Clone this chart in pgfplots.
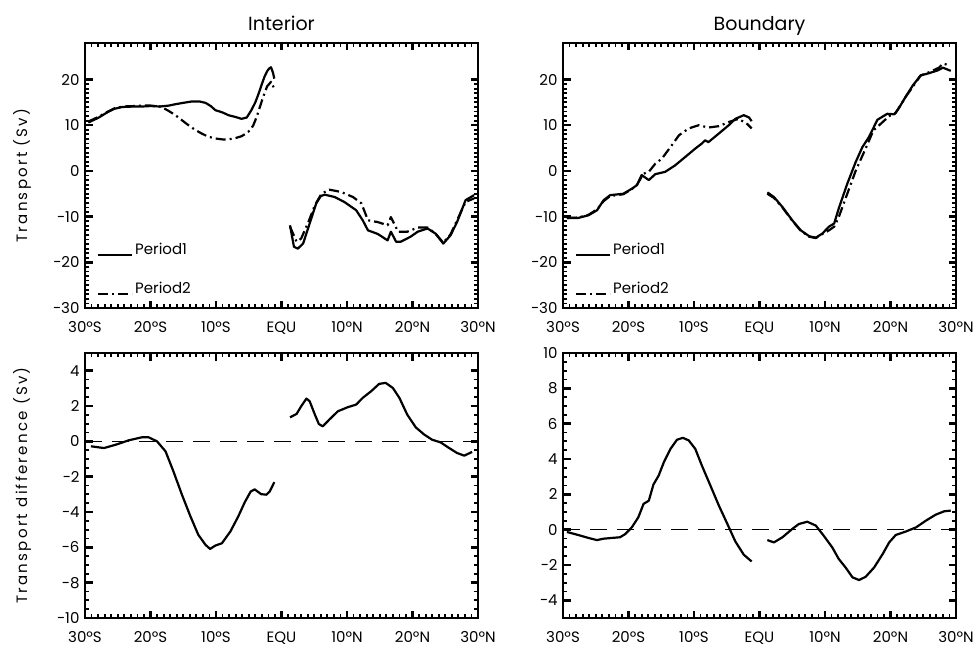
\documentclass[border=0pt]{standalone}
\usepackage{fontspec}
\setmainfont{Poppins}
\newfontfamily\lblfont{Poppins}[LetterSpace=15]
\usepackage{pgfplots}
\pgfplotsset{compat=1.18}
\newcommand{\tfont}{\fontsize{15}{16}\selectfont}
\pgfplotsset{
  panel/.style={
    width=393pt, height=265pt, scale only axis,
    xmin=-30, xmax=30,
    xtick={-30,-20,...,30},
    xticklabels={30ºS,20ºS,10ºS,EQU,10ºN,20ºN,30ºN},
    minor x tick num=9,
    axis line style={line width=1.5pt},
    xtick pos=both, ytick pos=both, tick align=inside,
    tick style={line width=1.2pt, black},
    every major tick/.append style={draw=black, line width=2.4pt},
    every minor tick/.append style={draw=black, line width=1.8pt},
    major tick length=7.5pt, minor tick length=4pt,
    tick label style={font=\tfont},
    xticklabel style={yshift=-10pt},
    yticklabel style={xshift=-2pt},
    label style={font=\lblfont\tfont},
    title style={font=\fontsize{19}{19}\selectfont, at={(0.5,1)}, anchor=base, yshift=6pt},
    ylabel style={at={(axis description cs:-0.16,0.5)}, anchor=center},
    cycle list={{black, no markers}},
    every axis plot/.append style={line width=2.2pt, black, line join=round},
    legend style={draw=none, fill=none, at={(axis description cs:0.03,0.04)}, anchor=south west, font=\tfont, row sep=22pt, inner sep=0pt},
    legend cell align=left,
    legend image code/.code={\draw[#1] (0pt,-5pt) -- (34pt,-5pt);},
  },
  p1/.style={black, no markers, line width=2.2pt},
  p2/.style={black, no markers, line width=2.2pt, dash pattern=on 10pt off 4pt on 2pt off 4pt},
  zl/.style={black, no markers, line width=1.1pt, dash pattern=on 17pt off 10pt},
}
\begin{document}
\begin{tikzpicture}
\path (0,0) rectangle (977pt,-647pt);
% ---------------- Top left
\begin{axis}[panel, at={(85pt,-43pt)}, anchor=north west,
  ymin=-30, ymax=28, ytick={-30,-20,...,20},
  yticklabels={−30,−20,−10,0,10,20}, minor y tick num=9,
  title={Interior}, ylabel={Transport (Sv)}]
\addplot[p1] coordinates {(-29.5,10.6) (-28,11.6) (-26.5,12.9) (-25.5,13.6) (-24.3,14.0) (-22.5,14.1) (-21.3,14.1) (-20,14.2) (-18.5,14.1) (-17.2,14.3) (-16.2,14.6) (-15,14.9) (-13.7,15.2) (-12.5,15.2) (-11.6,14.9) (-10.8,14.2) (-10.1,13.3) (-9,12.8) (-8.1,12.2) (-7,11.8) (-6.1,11.4) (-5.3,11.7) (-4.6,13.3) (-4,15.0) (-3.5,16.9) (-3,19.0) (-2.6,20.6) (-2.2,21.8) (-1.9,22.4) (-1.6,22.7) (-1.3,21.5) (-1.1,20.2)};
\addlegendentry{Period1}
\addplot[p2] coordinates {(-29.5,10.8) (-28,11.8) (-26.5,13.0) (-25.5,13.7) (-24.3,14.1) (-22.5,14.2) (-21.3,14.3) (-20,14.3) (-18.5,14.1) (-17.3,13.2) (-16.2,12.2) (-15.2,11.1) (-14.2,10.0) (-13.2,9.0) (-12.2,8.2) (-11.2,7.5) (-10.1,7.1) (-9,6.9) (-8.1,6.9) (-7,7.2) (-6.1,7.6) (-5.4,8.2) (-4.8,8.9) (-4.3,10.0) (-3.8,11.8) (-3.3,14.0) (-2.8,16.2) (-2.2,18.5) (-1.6,19.5) (-1.1,18.0)};
\addlegendentry{Period2}
\addplot[p1] coordinates {(1.3,-11.9) (1.9,-16.6) (2.5,-17.0) (3.3,-15.9) (4.3,-11.5) (5.3,-7.1) (6.0,-5.5) (6.6,-5.2) (8.1,-5.7) (9.6,-6.8) (11.4,-8.6) (12.4,-10.8) (13.2,-13.0) (14.7,-13.8) (16.2,-15.2) (16.7,-13.3) (17.5,-15.5) (18.2,-15.5) (19.7,-14.4) (20.8,-13.3) (22.3,-12.6) (23.5,-13.7) (24.7,-15.9) (25.8,-14.1) (26.8,-11.2) (28.1,-6.4) (29.4,-5.3)};
\addplot[p2] coordinates {(1.3,-12.2) (2.3,-15.5) (3.0,-14.8) (4.1,-11.2) (5.1,-7.5) (6.1,-5.0) (7.3,-4.1) (9.1,-4.6) (10.9,-5.7) (12.2,-7.1) (13.2,-10.8) (14.7,-11.2) (16.2,-11.9) (16.7,-10.1) (17.8,-13.3) (19.2,-13.3) (20.8,-12.4) (22.3,-12.4) (23.5,-13.7) (24.7,-15.7) (25.8,-13.9) (26.8,-10.8) (28.1,-6.8) (29.4,-6.0)};
\end{axis}
% ---------------- Top right
\begin{axis}[panel, at={(563pt,-43pt)}, anchor=north west,
  ymin=-30, ymax=28, ytick={-30,-20,...,20},
  yticklabels={−30,−20,−10,0,10,20}, minor y tick num=9,
  title={Boundary}]
\addplot[p1] coordinates {(-29.4,-10.3) (-27.7,-10.3) (-26.1,-9.7) (-24.8,-8.6) (-23.8,-6.4) (-22.8,-5.3) (-20.8,-5.0) (-19.5,-3.9) (-18.7,-3.1) (-18.0,-0.9) (-16.9,-2.0) (-15.9,-0.7) (-14.4,-0.2) (-12.9,1.2) (-11.3,3.1) (-9.8,4.9) (-8.8,6.0) (-8.3,6.7) (-7.8,6.3) (-6.2,8.2) (-4.7,10.0) (-3.7,11.4) (-2.4,12.2) (-1.6,11.7) (-1.2,10.9)};
\addlegendentry{Period1}
\addplot[p2] coordinates {(-29.4,-10.3) (-27.7,-10.2) (-26.1,-9.6) (-24.8,-8.4) (-23.8,-6.6) (-22.8,-5.5) (-20.8,-5.1) (-19.5,-4.0) (-18.7,-3.0) (-17.7,-0.6) (-16.9,-0.2) (-15.9,1.6) (-14.9,2.7) (-13.4,5.6) (-12.3,7.8) (-10.8,9.3) (-9.3,10.0) (-7.8,9.5) (-6.2,9.8) (-4.7,10.7) (-3.2,11.4) (-1.9,10.3) (-1.2,9.3)};
\addlegendentry{Period2}
\addplot[p1] coordinates {(1.2,-4.7) (2.2,-5.7) (3.5,-7.9) (5.0,-10.8) (6.3,-13.0) (7.6,-14.3) (8.6,-14.6) (9.6,-13.7) (10.6,-12.2) (11.4,-11.5) (12.1,-8.2) (13.4,-2.8) (14.7,2.0) (15.7,5.2) (16.7,7.4) (18.0,11.2) (19.5,12.5) (20.6,12.4) (21.3,13.8) (22.3,16.2) (23.4,18.7) (24.6,20.9) (25.9,21.4) (27.2,22.0) (28.0,22.6) (29.2,21.9)};
\addplot[p2] coordinates {(1.2,-5.0) (2.2,-5.9) (3.5,-8.0) (5.0,-10.9) (6.3,-13.1) (7.6,-14.4) (8.6,-14.7) (9.6,-13.8) (10.6,-13.0) (11.4,-12.2) (12.1,-10.1) (13.4,-5.0) (14.7,0.1) (16.2,4.9) (17.4,8.9) (18.5,10.3) (19.8,12.0) (20.8,12.7) (22.3,16.2) (23.4,18.4) (24.6,20.9) (25.9,21.6) (27.4,22.6) (28.0,23.5) (29.0,23.1)};
\end{axis}
% ---------------- Bottom left
\begin{axis}[panel, at={(85pt,-353pt)}, anchor=north west,
  ymin=-10, ymax=5, ytick={-10,-8,...,4},
  yticklabels={−10,−8,−6,−4,−2,0,2,4}, minor y tick num=3,
  ylabel={Transport difference (Sv)}]
\addplot[zl] coordinates {(-30,0) (30,0)};
\addplot[p1] coordinates {(-29.1,-0.28) (-27.1,-0.38) (-25.3,-0.19) (-23.3,0.06) (-21.3,0.23) (-20.3,0.23) (-19.0,0.0) (-17.7,-0.57) (-16.5,-1.70) (-15.2,-3.02) (-13.9,-4.25) (-12.7,-5.29) (-11.6,-5.86) (-10.9,-6.09) (-10.1,-5.90) (-9.1,-5.77) (-7.8,-5.10) (-6.6,-4.25) (-5.6,-3.44) (-4.7,-2.84) (-4.1,-2.72) (-3.1,-2.99) (-2.3,-3.02) (-1.8,-2.84) (-1.1,-2.31)};
\addplot[p1] coordinates {(1.3,1.36) (2.3,1.55) (3.0,1.98) (3.8,2.42) (4.3,2.27) (5.1,1.51) (5.7,0.98) (6.3,0.85) (7.3,1.23) (8.6,1.70) (10.1,1.93) (11.4,2.08) (12.4,2.46) (13.7,2.84) (14.9,3.25) (15.9,3.31) (17.0,3.02) (18.0,2.46) (19.2,1.51) (20.5,0.79) (21.8,0.38) (23.0,0.09) (24.3,-0.06) (25.6,-0.38) (26.8,-0.66) (27.9,-0.81) (29.1,-0.60)};
\end{axis}
% ---------------- Bottom right
\begin{axis}[panel, at={(563pt,-353pt)}, anchor=north west,
  ymin=-5, ymax=10, ytick={-4,-2,...,10},
  yticklabels={−4,−2,0,2,4,6,8,10}, minor y tick num=3]
\addplot[zl] coordinates {(-30,0) (30,0)};
\addplot[p1] coordinates {(-29.4,-0.13) (-27.7,-0.30) (-26.1,-0.47) (-24.8,-0.59) (-23.8,-0.51) (-22.6,-0.47) (-21.3,-0.43) (-20.5,-0.25) (-19.5,0.13) (-18.5,0.70) (-17.7,1.46) (-16.9,1.64) (-16.2,2.55) (-15.4,3.06) (-14.6,3.82) (-13.6,4.57) (-12.6,5.09) (-11.7,5.20) (-10.8,5.05) (-9.8,4.57) (-8.8,3.63) (-7.5,2.50) (-6.2,1.36) (-4.9,0.32) (-3.7,-0.66) (-2.4,-1.42) (-1.2,-1.80)};
\addplot[p1] coordinates {(1.2,-0.59) (2.2,-0.72) (3.5,-0.43) (5.0,0.04) (6.0,0.32) (7.3,0.45) (8.6,0.23) (9.8,-0.34) (11.1,-1.00) (12.1,-1.66) (13.2,-2.17) (14.2,-2.70) (15.2,-2.85) (16.2,-2.67) (17.5,-2.14) (18.8,-1.38) (19.8,-0.72) (20.8,-0.30) (22.3,-0.11) (23.9,0.13) (25.4,0.51) (26.9,0.85) (28.2,1.04) (29.2,1.08)};
\end{axis}
\end{tikzpicture}
\end{document}
